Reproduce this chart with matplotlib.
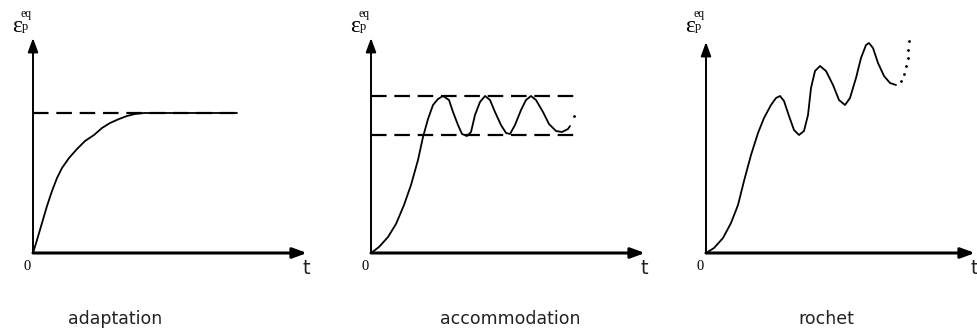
import numpy as np
import matplotlib.pyplot as plt

# Curve data (origin of each panel = 0,0; units = pixels)
adapt_x = [0, 4, 9, 14, 19, 24, 29, 36, 44, 52, 61, 69, 77, 86, 94, 102, 111, 204]
adapt_y = [0, 13, 30, 47, 62, 75, 85, 95, 104, 112, 118, 125, 130, 134, 137, 139, 140, 140]
adapt_level = 140

accom_x = [0, 8, 17, 25, 33, 40, 47, 52, 57, 62, 67, 72, 78, 82, 87, 91, 96, 100, 104,
           109, 114, 119, 124, 130, 135, 139, 144, 150, 155, 160, 165, 172, 178, 185,
           191, 197, 199]
accom_y = [0, 6, 16, 29, 48, 68, 93, 116, 134, 148, 154, 157, 153, 141, 128, 119, 117, 121,
           138, 151, 157, 153, 141, 128, 120, 119, 128, 143, 153, 157, 153, 141, 129, 122,
           121, 124, 127]
accom_hi = 157
accom_lo = 118
accom_end = 204
accom_dot_x = [203]
accom_dot_y = [137]

roch_x = [0, 8, 17, 25, 32, 38, 45, 52, 58, 65, 70, 74, 78, 83, 88, 93, 98, 102, 105,
          109, 114, 120, 127, 133, 139, 144, 150, 155, 160, 163, 167, 172, 178, 184, 190]
roch_y = [0, 5, 15, 30, 48, 72, 98, 120, 135, 148, 155, 157, 152, 137, 123, 118, 122, 138,
          165, 182, 187, 182, 168, 153, 148, 155, 175, 195, 208, 210, 205, 190, 177, 170, 168]
roch_dot_x = [195, 198, 200, 202, 202, 203]
roch_dot_y = [172, 179, 187, 195, 203, 212]

names = ["adaptation", "accommodation", "rochet"]

# layout (pixels)
W, H = 978, 329
origins = [(33, 253), (371, 253), (706, 253)]
bounds = [(0, 326), (326, 652), (652, 978)]
x_tips = [274, 274, 269]
y_tips = [215, 215, 211]
name_x = [82, 139, 120]

fig = plt.figure(figsize=(W / 100, H / 100), dpi=100)

axes = []
for (ox, oy), (L, R) in zip(origins, bounds):
    ax = fig.add_axes([L / W, 0, (R - L) / W, 1])
    ax.set_xlim(L - ox, R - ox)
    ax.set_ylim(oy - H, oy)
    ax.axis("off")
    axes.append(ax)

for i, ax in enumerate(axes):
    # axes with arrows
    ax.annotate("", xy=(x_tips[i], 0), xytext=(0, 0),
                arrowprops=dict(arrowstyle="-|>,head_length=0.6,head_width=0.22",
                                lw=2.2, color="k", mutation_scale=14, shrinkA=0, shrinkB=0))
    ax.annotate("", xy=(0, y_tips[i]), xytext=(0, 0),
                arrowprops=dict(arrowstyle="-|>,head_length=0.6,head_width=0.22",
                                lw=1.4, color="k", mutation_scale=14, shrinkA=0, shrinkB=0))
    # labels
    ax.text(-21, 221, "ε", family="Liberation Serif", fontsize=17,
            ha="left", va="baseline")
    ax.text(-12.5, 236, "eq", family="Liberation Serif", fontsize=8.5,
            ha="left", va="baseline")
    ax.text(-11, 223, "p", family="Liberation Serif", fontsize=9,
            ha="left", va="baseline")
    ax.text(-6, -13, "0", family="Liberation Serif", fontsize=10.5, ha="center", va="center")
    ax.text(x_tips[i] - 1, -15, "t", family="DejaVu Sans", fontsize=14, ha="center",
            va="center", color="#222222")
    ax.text(name_x[i], -66, names[i], family="DejaVu Sans", fontsize=12.5,
            ha="center", va="center", color="#222222")

dash = dict(color="k", lw=1.6, dashes=(7, 3.5))
curve = dict(color="k", lw=1.3, solid_joinstyle="round", solid_capstyle="round")

# adaptation
axes[0].plot([0, adapt_x[-1]], [adapt_level, adapt_level], **dash)
axes[0].plot(adapt_x, adapt_y, **curve)

# accommodation
axes[1].plot([0, accom_end], [accom_hi, accom_hi], **dash)
axes[1].plot([0, accom_end], [accom_lo, accom_lo], **dash)
axes[1].plot(accom_x, accom_y, **curve)
axes[1].plot(accom_dot_x, accom_dot_y, "k.", ms=2)

# rochet
axes[2].plot(roch_x, roch_y, **curve)
axes[2].plot(roch_dot_x, roch_dot_y, "k.", ms=2)

fig.savefig("out.png", dpi=100)
